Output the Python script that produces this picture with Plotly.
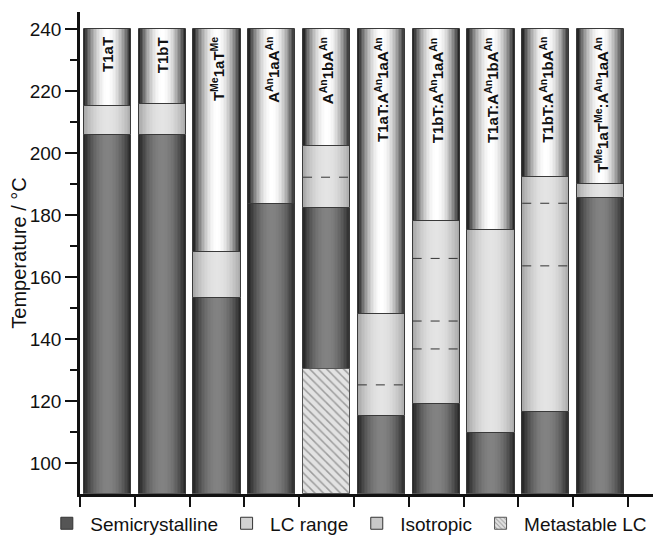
import plotly.graph_objects as go

# ---------------- data ----------------
categories = ["T1aT", "T1bT", "TMe1aTMe", "AAn1aAAn", "AAn1bAAn",
              "T1aT:AAn1aAAn", "T1bT:AAn1aAAn", "T1aT:AAn1bAAn",
              "T1bT:AAn1bAAn", "TMe1aTMe:AAn1aAAn"]
bar_labels = ["T1aT", "T1bT", "T<sup>Me</sup>1aT<sup>Me</sup>",
              "A<sup>An</sup>1aA<sup>An</sup>", "A<sup>An</sup>1bA<sup>An</sup>",
              "T1aT:A<sup>An</sup>1aA<sup>An</sup>", "T1bT:A<sup>An</sup>1aA<sup>An</sup>",
              "T1aT:A<sup>An</sup>1bA<sup>An</sup>", "T1bT:A<sup>An</sup>1bA<sup>An</sup>",
              "T<sup>Me</sup>1aT<sup>Me</sup>:A<sup>An</sup>1aA<sup>An</sup>"]
axis_min = 90
metastable_top = [None, None, None, None, 130.2, None, None, None, None, None]
semi_top = [205.8, 205.9, 153.2, 183.4, 182.4, 115.2, 119.0, 109.6, 116.3, 185.6]
lc_top = [215.2, 215.7, 168.2, 183.4, 202.3, 148.0, 178.0, 175.2, 192.3, 190.0]
iso_top = [240, 240, 240, 240, 240, 240, 240, 240, 240, 240]
# dashed transition lines inside LC range: (bar index, temperature)
dash_bar = [4, 5, 6, 6, 6, 8, 8]
dash_temp = [192.2, 125.2, 166.0, 145.8, 136.8, 183.8, 163.6]
y_ticks = [100, 120, 140, 160, 180, 200, 220, 240]
y_minor = [110, 130, 150, 170, 190, 210, 230]

# ---------------- styling ----------------
BAR_W = 0.86
N_LEV = 16
FONT = "Arial, Liberation Sans, sans-serif"
x_pos = list(range(len(categories)))

semi_base = [m if m is not None else axis_min for m in metastable_top]
segments = {
    "Semicrystalline": dict(base=semi_base, top=semi_top, edge=(35, 35, 35), center=(130, 130, 130)),
    "LC range": dict(base=semi_top, top=lc_top, edge=(165, 165, 165), center=(228, 228, 228)),
    "Isotropic": dict(base=lc_top, top=iso_top, edge=(25, 25, 25), center=(255, 255, 255)),
}
legend_col = {"Semicrystalline": "rgb(85,85,85)", "LC range": "rgb(210,210,210)",
              "Isotropic": "rgb(200,200,200)"}


def shade(edge, center, f):
    w = 1 - f ** 2
    return "rgb(%d,%d,%d)" % tuple(round(e + (c - e) * w) for e, c in zip(edge, center))


fig = go.Figure()
for name, seg in segments.items():
    heights = [t - b for t, b in zip(seg["top"], seg["base"])]
    for k in range(N_LEV):
        f0 = 1 - k / N_LEV
        f1 = 1 - (k + 1) / N_LEV
        fig.add_trace(go.Bar(x=x_pos, y=heights, base=seg["base"], width=BAR_W * f0,
                             marker=dict(color=shade(seg["edge"], seg["center"], (f0 + f1) / 2),
                                         line=dict(width=0)),
                             opacity=1, showlegend=False, hoverinfo="skip"))
    fig.add_trace(go.Bar(x=x_pos, y=heights, base=seg["base"], width=BAR_W,
                         marker=dict(color="rgba(0,0,0,0)", line=dict(color="#3a3a3a", width=1)),
                         showlegend=False, hoverinfo="skip"))

# metastable LC (hatched)
meta_h = [(m - axis_min) if m is not None else 0 for m in metastable_top]
fig.add_trace(go.Bar(x=x_pos, y=meta_h, base=[axis_min] * len(x_pos), width=BAR_W,
                     marker=dict(color="#e2e2e2", line=dict(color="#555", width=1),
                                 pattern=dict(shape="\\", fgcolor="#555", bgcolor="#e2e2e2",
                                              size=6, solidity=0.25)),
                     showlegend=False, hoverinfo="skip"))

# dashed lines
dx, dy = [], []
for b, t in zip(dash_bar, dash_temp):
    dx += [x_pos[b] - BAR_W / 2, x_pos[b] + BAR_W / 2, None]
    dy += [t, t, None]
fig.add_trace(go.Scatter(x=dx, y=dy, mode="lines", line=dict(color="#333", width=1, dash="dash"),
                         showlegend=False, hoverinfo="skip"))

# legend entries
for i, name in enumerate(["Semicrystalline", "LC range", "Isotropic"]):
    fig.add_trace(go.Bar(x=[None], y=[None], name=name, legendrank=i + 1,
                         marker=dict(color=legend_col[name], line=dict(color="#333", width=1))))
fig.add_trace(go.Bar(x=[None], y=[None], name="Metastable LC", legendrank=4,
                     marker=dict(color="#e2e2e2", line=dict(color="#555", width=1),
                                 pattern=dict(shape="\\", fgcolor="#555", bgcolor="#e2e2e2",
                                              size=4, solidity=0.3))))

# bar labels
for xp, lab, top in zip(x_pos, bar_labels, iso_top):
    fig.add_annotation(x=xp, y=top, text=lab, textangle=-90, showarrow=False,
                       xanchor="center", yanchor="top", yshift=-6,
                       font=dict(family=FONT, size=15, color="#111", weight="bold"))

# page body has an 8px margin: figure is 8px smaller, margins compensate
fig.update_layout(
    width=653, height=527,
    margin=dict(l=72, r=8, t=4, b=41, autoexpand=False),
    barmode="overlay", bargap=0,
    plot_bgcolor="white", paper_bgcolor="white",
    font=dict(family=FONT, color="#111"),
    legend=dict(orientation="h", x=-0.064, xanchor="left", y=-0.061, yanchor="middle",
                itemwidth=37,
                font=dict(size=19, family=FONT, color="#111"), bgcolor="rgba(0,0,0,0)",
                traceorder="normal"),
    xaxis=dict(range=[-0.5, 9.956], tickvals=[i - 0.5 for i in range(len(categories) + 1)],
               ticks="outside", ticklen=10, tickwidth=2, tickcolor="#111",
               showticklabels=False, showline=True, linewidth=2.5, linecolor="#111",
               showgrid=False, zeroline=False),
    yaxis=dict(range=[90, 245.5], tickvals=y_ticks, ticks="outside", ticklen=12, tickwidth=2,
               tickcolor="#111", tickfont=dict(size=19, family=FONT, color="#111"),
               minor=dict(tickvals=y_minor, ticks="outside", ticklen=7, tickwidth=2, tickcolor="#111"),
               showline=True, linewidth=2.5, linecolor="#111", showgrid=False, zeroline=False,
               title=dict(text="Temperature / °C", font=dict(size=20, family=FONT, color="#111"),
                          standoff=6)),
)

fig.write_html("out.html")
